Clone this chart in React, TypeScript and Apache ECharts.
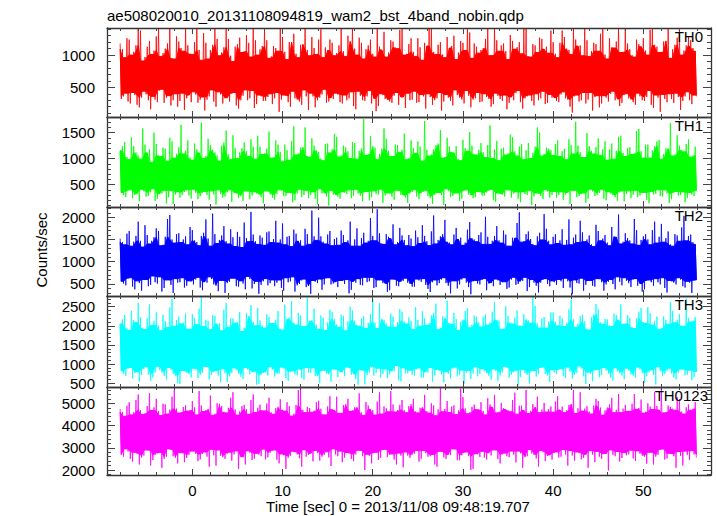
import React, { useEffect, useRef } from "react";
import * as echarts from "echarts";

// ---------------- data ----------------
const TITLE = "ae508020010_20131108094819_wam2_bst_4band_nobin.qdp";
const X_TITLE = "Time [sec] 0 = 2013/11/08 09:48:19.707";
const Y_TITLE = "Counts/sec";

const PANEL_NAMES = ["TH0", "TH1", "TH2", "TH3", "TH0123"];

// samples "A" at T_START + k*T_STEP, samples "B" half a step later (sec)
const T_START = -8;
const T_STEP = 0.5;

const X_MIN = -9.46;
const X_MAX = 57.5;
const X_LABELS = [0, 10, 20, 30, 40, 50];

const Y_RANGES = [
  [40, 1420],
  [70, 1800],
  [230, 2230],
  [400, 2780],
  [1775, 5735],
];
const Y_MAJOR = [500, 500, 500, 500, 1000];
const Y_MINOR = [100, 100, 100, 100, 200];

// local maxima / minima of each light curve
const th0HiA = [
  1180, 960, 1240, 1050, 1420, 910, 1130, 1010, 1290, 980, 1100, 1480, 940, 1210, 1060, 1150,
  1010, 1500, 920, 1190, 1080, 1460, 990, 1120, 1250, 900, 1170, 1040, 1310, 970, 1230, 1090,
  1400, 950, 1140, 1060, 1280, 930, 1200, 1020, 1160, 1470, 990, 1110, 1240, 960, 1070, 1190,
  1030, 1440, 980, 1210, 1100, 1270, 940, 1150, 1020, 1510, 1080, 970, 1230, 1120, 1390, 1000,
  1170, 1050, 1260, 920, 1140, 1480, 1010, 1200, 960, 1110, 1300, 1040, 1190, 1490, 950, 1130,
  1080, 1250, 990, 1410, 1060, 1180, 930, 1220, 1120, 1020, 1460, 970, 1150, 1270, 1090, 1030,
  1200, 960, 1380, 1100, 1010, 1240, 1150, 1450, 980, 1190, 1060, 1500, 940, 1120, 1210, 1040,
  1480, 1090, 970, 1170, 1260, 1000, 1420, 1130, 1050, 1220, 950, 1160, 1390, 1070, 1280, 1110,
];
const th0HiB = [
  1090, 1260, 1000, 1150, 1380, 970, 1220, 1070, 1450, 1030, 1180, 950, 1290, 1110, 1500, 1020,
  1200, 1080, 1340, 940, 1160, 1250, 1040, 1420, 990, 1130, 1270, 1060, 1190, 1490, 1000, 1140,
  1230, 980, 1110, 1460, 1050, 1200, 1330, 960, 1170, 1080, 1280, 1010, 1400, 1120, 1240, 990,
  1150, 1060, 1300, 1470, 1000, 1190, 1090, 1240, 970, 1130, 1360, 1040, 1210, 1100, 1500, 1020,
  1260, 980, 1120, 1190, 1430, 1050, 1160, 1010, 1280, 1140, 930, 1220, 1070, 1350, 1180, 1030,
  1110, 1470, 1000, 1230, 1150, 1060, 1310, 1090, 1200, 1420, 980, 1170, 1040, 1250, 1130, 1380,
  1020, 1190, 1280, 1080, 1500, 1140, 990, 1230, 1060, 1170, 1330, 1010, 1260, 1110, 1440, 1050,
  1180, 1000, 1240, 1130, 1070, 1390, 1160, 1040, 1210, 1480, 1090, 1270, 1000, 1150, 1230, 1060,
];
const th0LoA = [
  320, 410, 250, 380, 190, 440, 300, 360, 270, 470, 340, 220, 400, 290, 150, 380,
  430, 260, 350, 310, 460, 200, 390, 330, 280, 420, 170, 370, 300, 450, 240, 360,
  290, 400, 330, 120, 380, 270, 440, 310, 230, 360, 410, 190, 340, 470, 280, 320,
  390, 250, 300, 430, 160, 370, 290, 450, 330, 210, 380, 310, 260, 420, 350, 180,
  300, 440, 270, 360, 400, 230, 330, 140, 390, 290, 460, 340, 250, 370, 310, 420,
  280, 350, 200, 410, 320, 380, 260, 300, 450, 170, 360, 290, 400, 330, 240, 390,
  340, 270, 430, 310, 110, 380, 300, 250, 420, 350, 190, 370, 280, 440, 320, 260,
  400, 310, 230, 360, 290, 450, 180, 340, 390, 270, 320, 410, 150, 360, 300, 380,
];
const th0LoB = [
  360, 280, 420, 230, 340, 390, 160, 310, 450, 260, 370, 300, 200, 410, 330, 270,
  390, 310, 140, 360, 280, 430, 250, 340, 400, 220, 300, 460, 330, 180, 380, 290,
  350, 240, 420, 310, 370, 200, 330, 280, 460, 150, 360, 300, 390, 260, 340, 410,
  270, 380, 330, 210, 440, 300, 360, 250, 130, 400, 320, 280, 370, 230, 350, 410,
  310, 260, 390, 170, 350, 300, 420, 280, 340, 220, 380, 310, 450, 190, 330, 270,
  400, 320, 240, 370, 290, 160, 350, 410, 270, 330, 380, 220, 300, 440, 260, 340,
  290, 390, 330, 200, 360, 280, 420, 310, 140, 370, 250, 340, 400, 300, 210, 380,
  330, 270, 410, 300, 350, 230, 380, 120, 320, 400, 260, 350, 290, 430, 240, 360,
];
const th1HiA = [
  1150, 1320, 980, 1240, 1060, 1580, 1110, 930, 1280, 1040, 1190, 1400, 1010, 1220, 1090, 1350,
  970, 1180, 1690, 1050, 1260, 1120, 950, 1310, 1080, 1450, 1000, 1200, 1140, 1370, 990, 1230,
  1100, 1520, 1020, 1270, 940, 1160, 1340, 1070, 1210, 1600, 1030, 1250, 1130, 960, 1290, 1180,
  1420, 1060, 1220, 1000, 1300, 1150, 1760, 1090, 1240, 980, 1190, 1380, 1040, 1270, 1120, 1480,
  1010, 1200, 1330, 950, 1170, 1080, 1260, 1550, 1030, 1230, 1110, 990, 1360, 1140, 1250, 1070,
  1300, 1020, 1640, 1180, 960, 1210, 1100, 1410, 1050, 1280, 1160, 1000, 1230, 1500, 1090, 1190,
  1060, 1350, 1140, 980, 1260, 1710, 1120, 1030, 1240, 1090, 1390, 1180, 970, 1290, 1150, 1440,
  1040, 1220, 1100, 1570, 1010, 1270, 1160, 1330, 990, 1200, 1680, 1080, 1250, 1130, 1370, 1060,
];
const th1HiB = [
  1240, 1030, 1410, 1120, 990, 1270, 1180, 1500, 1060, 1210, 950, 1330, 1090, 1650, 1150, 1020,
  1290, 1110, 1000, 1380, 1170, 1060, 1250, 1540, 980, 1200, 1120, 1310, 1040, 1230, 1440, 1080,
  1190, 1010, 1350, 1130, 1270, 970, 1620, 1100, 1220, 1050, 1390, 1160, 1000, 1280, 1110, 1470,
  1030, 1250, 1140, 1320, 990, 1190, 1060, 1430, 1210, 1090, 1580, 1150, 1040, 1260, 1170, 980,
  1350, 1100, 1230, 1720, 1050, 1180, 1290, 1010, 1400, 1130, 1240, 960, 1200, 1510, 1080, 1170,
  1120, 1260, 1000, 1340, 1190, 1070, 1460, 1140, 1230, 980, 1300, 1110, 1600, 1050, 1210, 1160,
  1280, 1040, 1190, 1370, 1090, 1250, 1020, 1490, 1150, 1220, 1060, 1330, 1180, 990, 1420, 1110,
  1200, 1080, 1530, 1140, 1270, 1010, 1240, 1360, 1090, 1190, 1050, 1450, 1170, 1280, 1030, 1230,
];
const th1LoA = [
  350, 260, 400, 300, 180, 370, 280, 420, 230, 330, 140, 390, 310, 250, 360, 290,
  410, 220, 340, 300, 380, 120, 320, 270, 400, 350, 240, 190, 370, 290, 330, 260,
  380, 310, 210, 400, 280, 350, 160, 330, 260, 390, 300, 230, 420, 340, 100, 310,
  270, 360, 320, 240, 410, 290, 350, 200, 380, 310, 150, 340, 270, 390, 300, 250,
  330, 400, 220, 360, 280, 130, 350, 300, 420, 260, 340, 190, 380, 310, 240, 370,
  290, 350, 410, 170, 320, 270, 390, 330, 230, 360, 300, 110, 340, 280, 400, 250,
  370, 300, 210, 350, 390, 260, 320, 150, 410, 280, 340, 230, 360, 300, 190, 380,
  320, 240, 390, 290, 350, 140, 310, 400, 270, 330, 220, 370, 300, 160, 350, 280,
];
const th1LoB = [
  300, 380, 240, 330, 410, 270, 350, 190, 320, 390, 260, 130, 360, 300, 400, 230,
  340, 280, 370, 210, 310, 400, 250, 350, 170, 330, 290, 380, 220, 360, 310, 140,
  370, 250, 320, 390, 280, 340, 200, 410, 300, 240, 360, 120, 330, 270, 390, 310,
  230, 350, 400, 280, 330, 180, 370, 260, 320, 410, 290, 340, 210, 380, 300, 150,
  360, 270, 330, 390, 240, 300, 350, 110, 380, 280, 340, 230, 400, 310, 260, 350,
  290, 380, 200, 340, 310, 400, 250, 360, 160, 320, 390, 270, 330, 220, 370, 300,
  250, 360, 310, 130, 390, 280, 340, 230, 370, 300, 410, 200, 330, 260, 350, 180,
  380, 300, 260, 350, 210, 370, 320, 280, 400, 150, 340, 290, 360, 240, 310, 390,
];
const th2HiA = [
  1520, 1380, 1690, 1450, 1900, 1330, 1600, 1470, 1750, 1360, 1560, 2050, 1420, 1640, 1500, 1380,
  1710, 1440, 1580, 1950, 1350, 1620, 1490, 1800, 1400, 1550, 1670, 1320, 1530, 2120, 1460, 1590,
  1370, 1680, 1510, 1420, 1860, 1560, 1340, 1630, 1480, 1740, 1390, 1570, 1990, 1450, 1610, 1360,
  1540, 1700, 1430, 1900, 1500, 1350, 1650, 1470, 1580, 2180, 1410, 1620, 1520, 1380, 1760, 1490,
  1600, 1340, 1550, 1820, 1460, 1680, 1400, 1570, 1940, 1430, 1610, 1500, 1370, 1720, 1530, 1450,
  1660, 2010, 1390, 1580, 1480, 1700, 1350, 1540, 1870, 1440, 1620, 1510, 1360, 1650, 2070, 1470,
  1560, 1410, 1730, 1490, 1380, 1610, 1920, 1450, 1590, 1340, 1690, 1520, 1430, 1780, 1550, 1400,
  1640, 1480, 1960, 1370, 1570, 1500, 1710, 1420, 1850, 1530, 1390, 1620, 1460, 2030, 1580, 1440,
];
const th2HiB = [
  1440, 1630, 1350, 1580, 1470, 1820, 1400, 1550, 1690, 1380, 1960, 1500, 1620, 1430, 1570, 1780,
  1480, 1360, 1650, 1520, 2080, 1410, 1590, 1460, 1730, 1340, 1560, 1880, 1450, 1610, 1390, 1540,
  1660, 1430, 1920, 1500, 1380, 1580, 1720, 1460, 1350, 1620, 2150, 1480, 1570, 1400, 1690, 1510,
  1370, 1600, 1480, 1350, 1750, 1530, 1420, 1980, 1470, 1640, 1390, 1560, 1840, 1440, 1590, 1360,
  1520, 1700, 1410, 1580, 1360, 2040, 1490, 1620, 1450, 1380, 1760, 1540, 1430, 1890, 1500, 1600,
  1390, 1560, 1470, 1800, 1420, 1610, 1350, 1530, 2110, 1460, 1680, 1400, 1570, 1490, 1740, 1380,
  1620, 1480, 1370, 1950, 1540, 1430, 1660, 1500, 1390, 1830, 1470, 1600, 1360, 1570, 2060, 1450,
  1530, 1400, 1710, 1490, 1620, 1380, 1900, 1560, 1440, 1680, 1350, 1590, 1770, 1470, 1610, 1390,
];
const th2LoA = [
  560, 470, 640, 380, 520, 600, 450, 680, 510, 330, 590, 480, 620, 540, 420, 570,
  490, 650, 360, 530, 610, 460, 580, 300, 550, 630, 440, 510, 670, 400, 560, 480,
  620, 520, 450, 590, 350, 540, 660, 470, 580, 430, 280, 550, 610, 490, 640, 510,
  430, 570, 600, 370, 530, 480, 650, 560, 410, 590, 520, 320, 610, 460, 550, 630,
  500, 440, 580, 620, 390, 540, 470, 600, 520, 290, 570, 490, 640, 430, 560, 510,
  590, 360, 530, 610, 480, 550, 420, 650, 500, 570, 340, 600, 460, 530, 620, 450,
  540, 600, 410, 560, 270, 520, 630, 480, 580, 440, 610, 350, 550, 500, 660, 470,
  570, 430, 620, 510, 380, 590, 460, 540, 640, 310, 560, 490, 600, 420, 530, 580,
];
const th2LoB = [
  510, 620, 440, 570, 350, 600, 480, 540, 660, 410, 590, 300, 530, 640, 460, 560,
  600, 420, 550, 660, 490, 340, 580, 520, 630, 450, 570, 380, 610, 500, 280, 560,
  470, 590, 530, 410, 640, 560, 330, 500, 610, 460, 580, 520, 370, 630, 490, 550,
  580, 500, 290, 560, 620, 470, 540, 650, 430, 590, 510, 360, 600, 450, 570, 530,
  440, 610, 550, 480, 320, 590, 520, 640, 460, 570, 400, 600, 530, 270, 580, 490,
  620, 510, 450, 580, 540, 390, 600, 480, 560, 650, 430, 530, 310, 590, 500, 570,
  480, 560, 630, 420, 590, 510, 350, 570, 460, 620, 540, 490, 600, 380, 550, 640,
  520, 600, 460, 330, 570, 540, 620, 490, 410, 580, 530, 640, 450, 560, 300, 590,
];
const th3HiA = [
  2050, 2280, 1880, 2150, 2600, 1950, 2200, 2010, 2350, 1870, 2120, 2480, 1990, 2240, 2080, 1920,
  2310, 2030, 2750, 2160, 1900, 2260, 2070, 2420, 1960, 2190, 2100, 1850, 2330, 2540, 2000, 2140,
  1940, 2230, 2060, 2390, 1890, 2170, 2650, 2020, 2270, 1980, 2120, 2450, 1910, 2210, 2090, 2360,
  2040, 2290, 1870, 2500, 2130, 1990, 2250, 2080, 2700, 1930, 2180, 2060, 2320, 1960, 2440, 2110,
  2220, 1900, 2150, 2380, 2010, 2270, 2580, 1950, 2200, 2070, 2340, 1880, 2160, 2460, 2030, 2240,
  1970, 2300, 2090, 2620, 2140, 1920, 2260, 2050, 2400, 1990, 2180, 2070, 2520, 1940, 2230, 2110,
  2350, 2000, 2190, 2080, 2680, 1960, 2250, 2120, 1890, 2300, 2430, 2040, 2170, 1980, 2280, 2560,
  2060, 2210, 1930, 2370, 2100, 2490, 2020, 2240, 1950, 2160, 2620, 2080, 2310, 1990, 2200, 2130,
];
const th3HiB = [
  2170, 1940, 2390, 2080, 2230, 1900, 2560, 2120, 2010, 2290, 1960, 2700, 2150, 2050, 2330, 1910,
  2200, 2440, 1980, 2130, 2280, 2040, 1870, 2600, 2190, 2070, 2360, 1950, 2250, 2110, 2470, 2010,
  2300, 2060, 2160, 1920, 2550, 2210, 2090, 2340, 1990, 2740, 2140, 2030, 2270, 1880, 2420, 2180,
  1960, 2260, 2120, 2400, 2020, 2190, 1930, 2310, 2080, 2590, 2160, 1970, 2240, 2100, 2370, 2050,
  2130, 2490, 1990, 2200, 2070, 2330, 1900, 2250, 2660, 2040, 2180, 2110, 2390, 1950, 2270, 2090,
  2240, 2020, 2370, 2150, 1910, 2510, 2080, 2210, 2000, 2300, 2140, 2780, 2060, 2190, 1940, 2350,
  2110, 2260, 1980, 2430, 2170, 2050, 2290, 1920, 2220, 2570, 2090, 2180, 2010, 2320, 2150, 2040,
  2280, 1970, 2200, 2470, 2060, 2330, 2120, 1900, 2250, 2040, 2390, 2160, 2000, 2710, 2100, 2230,
];
const th3LoA = [
  820, 690, 910, 760, 540, 870, 720, 650, 940, 780, 600, 850, 700, 480, 810, 740,
  890, 640, 770, 920, 710, 830, 520, 760, 680, 900, 740, 610, 860, 790, 460, 720,
  800, 930, 670, 750, 880, 560, 820, 710, 640, 910, 770, 690, 500, 840, 730, 870,
  660, 790, 920, 720, 610, 850, 470, 780, 700, 890, 740, 630, 820, 960, 550, 760,
  840, 700, 900, 650, 780, 540, 860, 730, 800, 620, 920, 710, 490, 830, 750, 680,
  880, 760, 590, 820, 700, 940, 650, 790, 450, 860, 720, 810, 670, 900, 740, 530,
  780, 850, 690, 920, 620, 770, 880, 480, 740, 830, 660, 910, 750, 570, 810, 700,
  890, 730, 640, 860, 510, 790, 720, 930, 680, 820, 760, 600, 870, 710, 840, 660,
];
const th3LoB = [
  750, 880, 620, 800, 710, 930, 560, 780, 850, 690, 910, 740, 500, 830, 770, 650,
  860, 720, 940, 600, 790, 700, 880, 530, 760, 840, 670, 910, 730, 810, 480, 770,
  700, 850, 760, 920, 640, 810, 730, 870, 590, 780, 900, 690, 820, 750, 540, 860,
  800, 680, 890, 740, 460, 830, 710, 940, 770, 650, 870, 730, 810, 570, 900, 760,
  720, 860, 650, 790, 910, 700, 820, 520, 750, 880, 680, 840, 770, 610, 930, 740,
  810, 690, 870, 560, 780, 900, 720, 840, 660, 760, 490, 830, 750, 920, 700, 850,
  740, 880, 630, 800, 720, 950, 680, 790, 550, 860, 710, 830, 640, 900, 770, 600,
  830, 700, 920, 760, 680, 850, 470, 810, 740, 890, 650, 780, 860, 720, 580, 800,
];
const th0123HiA = [
  4750, 4420, 5050, 4600, 5400, 4500, 4880, 4680, 5200, 4450, 4950, 4720, 5600, 4560, 4830, 4650,
  5100, 4480, 4900, 4700, 5350, 4530, 4980, 4620, 4800, 5500, 4470, 4870, 4730, 5150, 4590, 4940,
  4660, 5250, 4510, 4850, 4710, 5050, 4430, 4920, 5650, 4580, 4790, 4670, 5120, 4490, 4860, 4740,
  5300, 4550, 4960, 4640, 4820, 5450, 4460, 4900, 4700, 5080, 4520, 4780, 5550, 4610, 4930, 4690,
  4870, 5200, 4570, 4810, 4650, 5000, 4440, 5700, 4750, 4590, 4910, 4680, 5280, 4530, 4840, 4720,
  5050, 4480, 4950, 5380, 4620, 4780, 4700, 5150, 4510, 4890, 5600, 4660, 4820, 4580, 5020, 4740,
  4600, 5320, 4850, 4690, 4970, 4540, 5500, 4760, 4630, 4900, 5100, 4470, 4810, 5250, 4710, 4580,
  4930, 4650, 5420, 4790, 4560, 5000, 4720, 4880, 5650, 4610, 4840, 4690, 5180, 4520, 4950, 4760,
];
const th0123HiB = [
  4610, 4890, 4480, 5150, 4700, 4560, 5450, 4820, 4650, 4980, 4520, 5300, 4760, 4600, 4910, 4690,
  4820, 5550, 4630, 4750, 4460, 5000, 4880, 4570, 5250, 4720, 4640, 4930, 4510, 5400, 4800, 4670,
  4990, 4590, 4780, 5180, 4650, 4870, 4530, 5600, 4710, 4840, 4600, 5050, 4760, 4480, 5320, 4690,
  4550, 4920, 5200, 4680, 4810, 4590, 5060, 4740, 4470, 5500, 4860, 4620, 4950, 4700, 5150, 4580,
  4960, 4640, 4800, 5380, 4560, 4910, 4730, 4620, 5100, 4850, 4490, 5650, 4770, 4600, 4940, 4710,
  4660, 5230, 4830, 4570, 5020, 4740, 4620, 5480, 4890, 4680, 4540, 4970, 5300, 4720, 4610, 4860,
  5080, 4700, 4590, 4930, 5600, 4780, 4650, 4870, 4520, 5200, 4810, 4690, 4950, 4580, 5420, 4760,
  4640, 4980, 4730, 5170, 4620, 4850, 5500, 4700, 4570, 4900, 4760, 5280, 4630, 4820, 4690, 5050,
];
const th0123LoA = [
  2700, 2950, 2500, 2800, 2250, 2650, 2880, 2450, 2750, 2100, 2600, 2900, 2550, 2780, 2350, 2680,
  2850, 2400, 2720, 2600, 2930, 2200, 2640, 2500, 2800, 2700, 2050, 2580, 2860, 2450, 2750, 2620,
  2480, 2780, 2900, 2300, 2660, 2550, 2840, 2700, 2150, 2600, 2750, 2880, 2420, 2680, 2570, 2950,
  2620, 2350, 2790, 2500, 2700, 2870, 2000, 2640, 2760, 2450, 2900, 2580, 2720, 2250, 2650, 2810,
  2550, 2740, 2380, 2880, 2600, 2700, 2150, 2820, 2500, 2670, 2930, 2440, 2780, 2620, 2050, 2710,
  2840, 2470, 2650, 2900, 2300, 2760, 2580, 2690, 2850, 2100, 2620, 2750, 2520, 2880, 2400, 2680,
  2770, 2560, 2920, 2200, 2650, 2810, 2480, 2700, 2870, 2350, 2600, 2740, 1980, 2680, 2830, 2540,
  2660, 2890, 2410, 2730, 2600, 2800, 2250, 2680, 2940, 2520, 2720, 2100, 2640, 2850, 2460, 2700,
];
const th0123LoB = [
  2600, 2830, 2380, 2720, 2560, 2900, 2200, 2680, 2790, 2500, 2950, 2620, 2300, 2760, 2540, 2850,
  2720, 2480, 2810, 2150, 2660, 2900, 2580, 2740, 2420, 2860, 2600, 2250, 2780, 2510, 2690, 2940,
  2570, 2870, 2460, 2720, 2050, 2640, 2800, 2530, 2910, 2680, 2390, 2760, 2600, 2820, 2180, 2700,
  2850, 2560, 2740, 2400, 2890, 2620, 2710, 2300, 2800, 2550, 2930, 2680, 2470, 2760, 2120, 2650,
  2690, 2880, 2510, 2760, 2620, 2250, 2840, 2570, 2700, 2950, 2440, 2660, 2810, 2000, 2730, 2590,
  2560, 2780, 2900, 2490, 2700, 2620, 2850, 2340, 2750, 2580, 2920, 2680, 2160, 2800, 2630, 2470,
  2810, 2600, 2700, 2880, 2420, 2760, 2550, 2100, 2690, 2840, 2500, 2730, 2900, 2620, 2380, 2780,
  2700, 2520, 2860, 2640, 2280, 2790, 2600, 2910, 2470, 2750, 2620, 2830, 2200, 2680, 2870, 2560,
];

const HI_A = [th0HiA, th1HiA, th2HiA, th3HiA, th0123HiA];
const HI_B = [th0HiB, th1HiB, th2HiB, th3HiB, th0123HiB];
const LO_A = [th0LoA, th1LoA, th2LoA, th3LoA, th0123LoA];
const LO_B = [th0LoB, th1LoB, th2LoB, th3LoB, th0123LoB];

// ---------------- layout / style ----------------
const COLORS = ["#ff0000", "#00ff00", "#0000ff", "#00ffff", "#ff00ff"];
const PLOT_LEFT = 107;
const PLOT_RIGHT = 6;
const PANEL_TOPS = [28, 117, 207, 296, 387];
const PANEL_HEIGHTS = [89, 90, 89, 91, 88];
const FONT = "'Liberation Sans', Arial, Helvetica, sans-serif";

function multiples(min: number, max: number, step: number, skip?: number) {
  const out: number[] = [];
  const start = Math.ceil(min / step - 1e-9) * step;
  for (let v = start; v <= max + 1e-9; v += step) {
    const r = Math.round(v * 1000) / 1000;
    if (skip && Math.abs(r / skip - Math.round(r / skip)) < 1e-9) continue;
    out.push(r);
  }
  return out;
}

// rows: [time, hi, lo], A and B samples interleaved
function table(hiA: number[], loA: number[], hiB: number[], loB: number[]) {
  const out: number[][] = [];
  const n = Math.min(hiA.length, loA.length, hiB.length, loB.length);
  for (let i = 0; i < n; i++) {
    const t = T_START + i * T_STEP;
    out.push([t, hiA[i], loA[i]]);
    out.push([t + T_STEP / 2, hiB[i], loB[i]]);
  }
  return out;
}

function buildOption() {
  const grids: any[] = [];
  const xAxes: any[] = [];
  const yAxes: any[] = [];
  const series: any[] = [];
  const graphics: any[] = [];
  const axisLine = { show: true, onZero: false, lineStyle: { color: "#333", width: 1.3 } };
  const tickLine = { color: "#444", width: 1 };
  const xMinor = multiples(X_MIN, X_MAX, 2, 10);
  const half = T_STEP / 4;

  PANEL_NAMES.forEach((name, i) => {
    const isLast = i === PANEL_NAMES.length - 1;
    const [ymin, ymax] = Y_RANGES[i];
    const yMajor = multiples(ymin, ymax, Y_MAJOR[i]);
    const yMinor = multiples(ymin, ymax, Y_MINOR[i], Y_MAJOR[i]);
    grids.push({ left: PLOT_LEFT, right: PLOT_RIGHT, top: PANEL_TOPS[i], height: PANEL_HEIGHTS[i] });
    const xBase = xAxes.length;
    const yBase = yAxes.length;
    const mkX = (position: string, major: boolean) => ({
      type: "value",
      gridIndex: i,
      position,
      min: X_MIN,
      max: X_MAX,
      z: 5,
      axisLine: major ? axisLine : { show: false, onZero: false },
      axisTick: {
        show: true,
        inside: true,
        length: major ? 6 : 3,
        customValues: major ? X_LABELS : xMinor,
        lineStyle: tickLine,
      },
      axisLabel: {
        show: major && position === "bottom" && isLast,
        customValues: X_LABELS,
        margin: 8,
        fontSize: 15,
        fontFamily: FONT,
        color: "#000",
        formatter: (v: number) => String(v),
      },
      splitLine: { show: false },
      minorTick: { show: false },
    });
    const mkY = (position: string, major: boolean) => ({
      type: "value",
      gridIndex: i,
      position,
      min: ymin,
      max: ymax,
      z: 5,
      axisLine: major ? axisLine : { show: false, onZero: false },
      axisTick: {
        show: true,
        inside: true,
        length: major ? 8 : 4,
        customValues: major ? yMajor : yMinor,
        lineStyle: tickLine,
      },
      axisLabel: {
        show: major && position === "left",
        customValues: yMajor,
        margin: 12,
        fontSize: 15,
        fontFamily: FONT,
        color: "#000",
        formatter: (v: number) => String(v),
      },
      splitLine: { show: false },
      minorTick: { show: false },
    });
    xAxes.push(mkX("bottom", true), mkX("bottom", false), mkX("top", true), mkX("top", false));
    yAxes.push(mkY("left", true), mkY("left", false), mkY("right", true), mkY("right", false));

    const rows = table(HI_A[i], LO_A[i], HI_B[i], LO_B[i]);
    const color = COLORS[i];
    const n = rows.length;
    series.push({
      type: "custom",
      name,
      xAxisIndex: xBase,
      yAxisIndex: yBase,
      coordinateSystem: "cartesian2d",
      data: [[rows[0][0], rows[0][1]]],
      silent: true,
      clip: true,
      renderItem: (params: any, api: any) => {
        const clampY = (v: number) => Math.max(ymin, Math.min(ymax, v));
        // solid core: running min of the maxima / running max of the minima
        const upper = rows.map((r, k) => {
          const a = rows[Math.max(0, k - 1)][1];
          const b = rows[Math.min(n - 1, k + 1)][1];
          return api.coord([r[0], clampY(Math.min(a, r[1], b))]);
        });
        const lower = rows
          .map((r, k) => {
            const a = rows[Math.max(0, k - 1)][2];
            const b = rows[Math.min(n - 1, k + 1)][2];
            return api.coord([r[0] + half, clampY(Math.max(a, r[2], b))]);
          })
          .reverse();
        const zig: number[][] = [];
        rows.forEach((r) => {
          zig.push(api.coord([r[0], clampY(r[1])]));
          zig.push(api.coord([r[0] + half, clampY(r[2])]));
        });
        return {
          type: "group",
          children: [
            {
              type: "polygon",
              shape: { points: upper.concat(lower) },
              style: { fill: color, stroke: color, lineWidth: 1 },
            },
            {
              type: "polyline",
              shape: { points: zig },
              style: { fill: null, stroke: color, lineWidth: 1, opacity: 0.8 },
            },
          ],
        };
      },
      z: 1,
    });

    graphics.push({
      type: "text",
      x: isLast ? 708 : 703,
      y: PANEL_TOPS[i] + 1,
      z: 100,
      style: {
        text: name,
        fontSize: 15,
        fontFamily: FONT,
        fill: "#000",
        align: "right",
        verticalAlign: "top",
      },
    });
  });

  graphics.push(
    {
      type: "text",
      x: 107,
      y: 8,
      style: { text: TITLE, fontSize: 15, fontFamily: FONT, fill: "#000", align: "left", verticalAlign: "top" },
    },
    {
      type: "text",
      x: 398,
      y: 499,
      style: { text: X_TITLE, fontSize: 15, fontFamily: FONT, fill: "#000", align: "center", verticalAlign: "top" },
    },
    {
      type: "text",
      x: 41,
      y: 250,
      rotation: Math.PI / 2,
      style: { text: Y_TITLE, fontSize: 15, fontFamily: FONT, fill: "#000", align: "center", verticalAlign: "middle" },
    }
  );

  return {
    animation: false,
    backgroundColor: "#ffffff",
    grid: grids,
    xAxis: xAxes,
    yAxis: yAxes,
    series,
    graphic: graphics,
  };
}

export default function App() {
  const ref = useRef<HTMLDivElement>(null);
  useEffect(() => {
    if (!ref.current) return;
    const chart = echarts.init(ref.current, undefined, { renderer: "svg" });
    chart.setOption(buildOption() as any);
    return () => chart.dispose();
  }, []);
  return (
    <div
      ref={ref}
      style={{ position: "fixed", left: 0, top: 0, width: 717, height: 516, background: "#fff" }}
    />
  );
}
